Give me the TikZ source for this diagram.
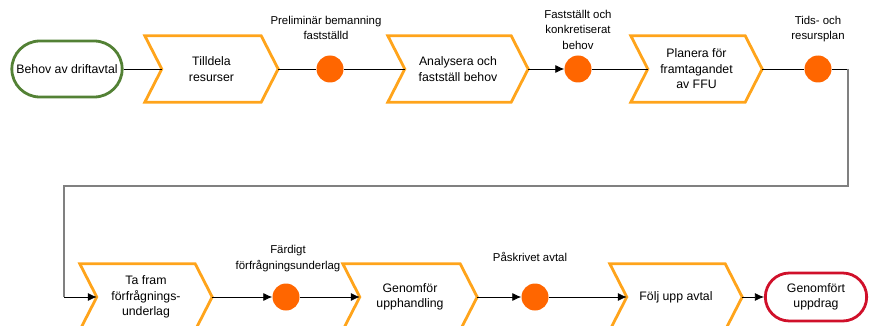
\documentclass[tikz,border=0pt]{standalone}
\usepackage{fontspec}
\setmainfont{Liberation Sans}
\usetikzlibrary{arrows.meta,positioning,shapes.misc}
\definecolor{procorange}{HTML}{FFA41B}
\definecolor{eventorange}{HTML}{FF6600}
\definecolor{startgreen}{HTML}{538135}
\definecolor{endred}{HTML}{D0102A}
\definecolor{loopgray}{HTML}{808080}

% process chevron: name, position, width, text
\newcommand{\procbox}[4]{%
  \node[proc, minimum width=#3] (#1) at (#2) {#4};
  \draw[procline] (#1.north west) -- ([xshift=-17pt]#1.north east) -- (#1.east)
    -- ([xshift=-17pt]#1.south east) -- (#1.south west) -- ([xshift=17pt]#1.west) -- cycle;
  \coordinate (#1-in) at ([xshift=17pt]#1.west);}

\begin{document}
\begin{tikzpicture}[x=1pt,y=-1pt,
  font=\fontsize{12.3}{15.5}\selectfont,
  proc/.style={minimum height=66pt, align=center, inner sep=0pt},
  procline/.style={draw=procorange, line width=2.8pt, line join=miter},
  event/.style={circle, fill=eventorange, minimum size=27pt, inner sep=0pt},
  lbl/.style={align=center, font=\fontsize{11.4}{15.5}\selectfont},
  term/.style={rounded rectangle, line width=2.8pt, align=center},
  flow/.style={draw, line width=0.8pt},
  loopline/.style={draw=loopgray, line width=1.4pt},
  >={Latex[length=9pt,width=8pt]}]
\useasboundingbox (0,0) rectangle (869,326);
\clip (0,0) rectangle (869,326);

% top row
\node[term, draw=startgreen, minimum width=117pt, minimum height=56pt] (start) at (67,69) {Behov av driftavtal};
\procbox{tilldela}{211.5,69}{133pt}{Tilldela\\resurser}
\node[event] (bemanning) at (330,69) {};
\procbox{analysera}{458,69}{140pt}{Analysera och\\fastställ behov}
\node[event] (behov) at (578,69) {};
\procbox{planera}{696.5,69}{131pt}{Planera för\\framtagandet\\av FFU}
\node[event] (resursplan) at (818,69) {};

\node[lbl] (lbemanning) at (326,28) {Preliminär bemanning\\fastställd};
\node[lbl] (lbehov) at (578,29.5) {Fastställt och\\konkretiserat\\behov};
\node[lbl] (lresursplan) at (818,29) {Tids- och\\resursplan};

% bottom row
\procbox{tafram}{146,297}{132pt}{Ta fram\\förfrågnings-\\underlag}
\node[event] (underlag) at (286,297) {};
\procbox{upphandling}{410,297}{134pt}{Genomför\\upphandling}
\node[event] (avtal) at (535,297) {};
\procbox{foljupp}{676,297}{132pt}{Följ upp avtal}
\node[term, draw=endred, minimum width=108pt, minimum height=48pt] (slut) at (816,297) {Genomfört\\uppdrag};

\node[lbl] (lunderlag) at (288,258.5) {Färdigt\\förfrågningsunderlag};
\node[lbl] (lavtal) at (530,257) {Påskrivet avtal};

\coordinate (hornA) at (848,69);
\coordinate (hornB) at (848,186);
\coordinate (hornC) at (64,186);
\coordinate (hornD) at (64,297);

% connectors
\draw[flow] (start.east) -- (tilldela-in);
\draw[flow] (tilldela.east) -- (bemanning.west);
\draw[flow] (bemanning.east) -- (analysera-in);
\draw[flow,->] (analysera.east) -- (behov.west);
\draw[flow] (behov.east) -- (planera-in);
\draw[flow] (planera.east) -- (resursplan.west);
\draw[flow] (resursplan.east) -- (hornA);
\draw[loopline] (hornA) -- (hornB) -- (hornC) -- (hornD);
\draw[flow,->] (hornD) -- (tafram-in);
\draw[flow,->] (tafram.east) -- (underlag.west);
\draw[flow,->] (underlag.east) -- (upphandling-in);
\draw[flow,->] (upphandling.east) -- (avtal.west);
\draw[flow,->] (avtal.east) -- (foljupp-in);
\draw[flow,->] (foljupp.east) -- (slut.west);
\end{tikzpicture}
\end{document}
